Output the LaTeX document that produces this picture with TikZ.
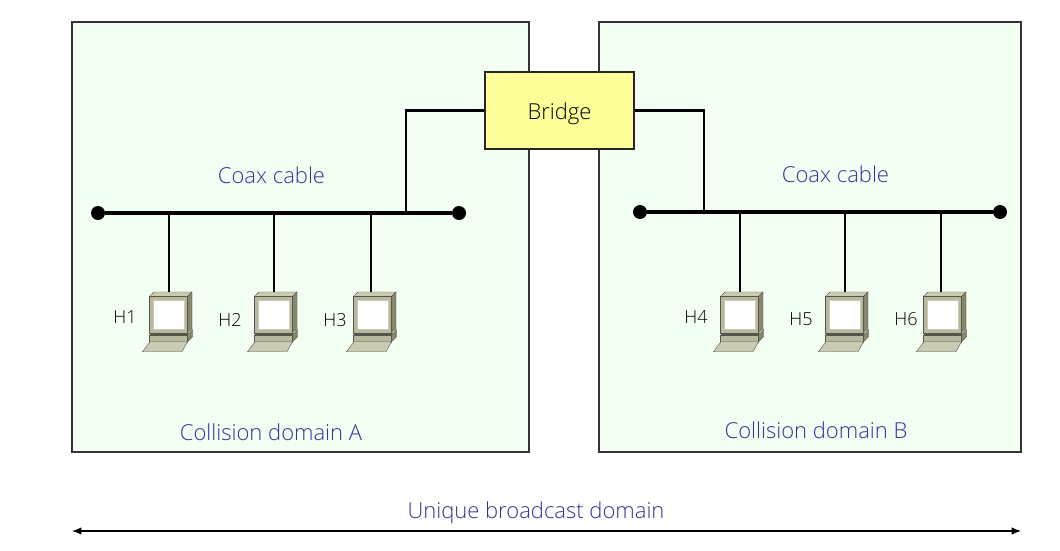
\documentclass[tikz,border=0pt]{standalone}
\usepackage{fontspec}
\setmainfont{Open Sans Light}
\usetikzlibrary{arrows.meta, positioning}
\definecolor{domainfill}{HTML}{F2FFF2}
\definecolor{bridgefill}{HTML}{FFFF99}
\definecolor{labelblue}{HTML}{333399}
\definecolor{hostbody}{HTML}{B9B9A0}
\definecolor{hostlight}{HTML}{CBCBB4}
\definecolor{hostdark}{HTML}{87876C}
\definecolor{hostedge}{HTML}{55554A}
\tikzset{
    host/.pic={
        \begin{scope}[shift={(-39,-12.3)}, draw=hostedge, line width=0.3pt]
            \filldraw[fill=hostlight] (19.5,16.7) -- (24,12.3) -- (62,12.3) -- (57.5,16.7) -- cycle;
            \filldraw[fill=hostdark] (57.5,16.7) -- (62,12.3) -- (62,49) -- (57.5,53) -- cycle;
            \filldraw[fill=hostbody] (19.5,16.7) rectangle (57.5,53);
            \fill[white, draw=hostlight, line width=0.8pt] (23.5,21) rectangle (54.5,49.5);
            \fill[hostedge] (19.5,53) rectangle (57.5,55);
            \filldraw[fill=hostdark] (57.5,55) -- (62.7,50) -- (62.7,57) -- (57.5,62) -- cycle;
            \filldraw[fill=hostbody] (19.5,55) rectangle (57.5,62);
            \filldraw[fill=hostlight] (12.5,72) -- (20,62) -- (57.5,62) -- (52,72) -- cycle;
        \end{scope}
    }
}
\begin{document}
\begin{tikzpicture}[
        x=0.75pt, y=-0.75pt,
        domainbox/.style={draw=black!80, fill=domainfill, line width=0.9pt, minimum height=322.5pt, inner sep=0pt},
        bridgebox/.style={draw=black!85, fill=bridgefill, line width=1pt, minimum width=111.75pt,
                       minimum height=57.75pt, text height=14pt, text depth=1.2pt,
                       font=\fontsize{16.5}{20}\selectfont},
        bluetext/.style={text=labelblue, font=\fontsize{16.5}{20}\selectfont},
        hostlabel/.style={font=\fontsize{13.5}{18}\selectfont},
        busend/.style={circle, fill=black, inner sep=0pt, minimum size=10.5pt},
        bus/.style={line width=3.4pt},
        link/.style={line width=1.7pt}
    ]
        \useasboundingbox (0,0) rectangle (1060,550);

        \node[domainbox, minimum width=342.75pt] (domA) at (300.5,237) {};
        \node[domainbox, minimum width=316.5pt] (domB) at (810,237) {};
        \node[bridgebox] (bridge) at (559.5,110.5) {Bridge};

        \node[busend] (busAl) at (98,213) {};
        \node[busend] (busAr) at (459,213) {};
        \node[busend] (busBl) at (640,212) {};
        \node[busend] (busBr) at (1000,212) {};
        \draw[bus] (busAl) -- (busAr);
        \draw[bus] (busBl) -- (busBr);

        \foreach \n/\x/\ix/\lx/\ly/\bus in {1/169/169/125/317/busAl, 2/274/274/230/320/busAl, 3/371/373/335/320/busAl,
                                            4/740/740/696/317/busBl, 5/845/845/801/319/busBl, 6/941/943/906/319/busBl} {
            \pic (h\n) at (\ix,292) {host};
            \coordinate (drop\n) at (\x,292);
            \node[hostlabel] (lab\n) at (\lx,\ly) {H\n};
            \draw[link] (drop\n) -- (drop\n |- \bus);
        }

        \coordinate (tapA) at (406,213);
        \coordinate (tapB) at (704,212);
        \draw[link] (bridge.west) -| (tapA);
        \draw[link] (bridge.east) -| (tapB);

        \node[bluetext] (coaxA) at (271.5,175.5) {Coax cable};
        \node[bluetext] (coaxB) at (835.5,174.5) {Coax cable};
        \node[bluetext] (nameA) at (271,432) {Collision domain A};
        \node[bluetext] (nameB) at (816,430) {Collision domain B};
        \node[bluetext] (unique) at (536,513) {Unique broadcast domain};

        \coordinate (spanl) at (72,531);
        \coordinate (spanr) at (1021,531);
        \draw[{Latex[length=7pt,width=5.5pt]}-{Latex[length=7pt,width=5.5pt]}, line width=0.8pt] (spanl) -- (spanr);
    \end{tikzpicture}
\end{document}
